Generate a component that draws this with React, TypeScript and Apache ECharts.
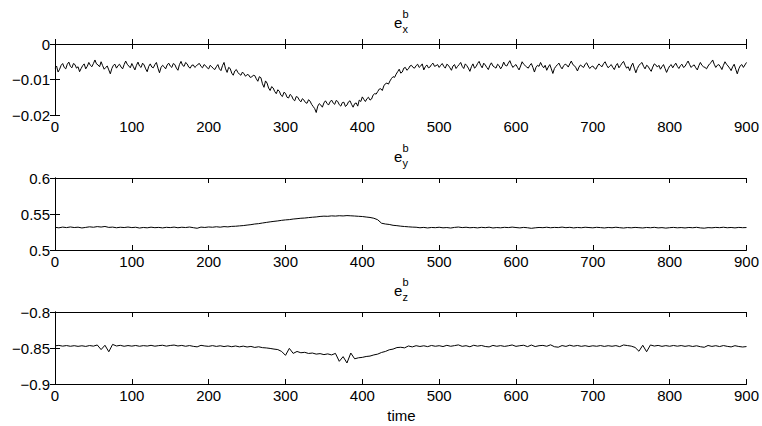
import React, { useEffect, useRef } from "react";
import * as echarts from "echarts";

// sample spacing (time units) of each series
const STEP_EX = 2;
const STEP_EY = 5;
const STEP_EZ = 5;

const X_MIN = 0;
const X_MAX = 900;
const X_INTERVAL = 100;

// e_x^b, t = 0,2,...,900
const exB = [
  -0.0068, -0.0062, -0.0079, -0.0071, -0.0060, -0.0055, -0.0066, -0.0070, -0.0057, -0.0051, -0.0063, -0.0067, -0.0055, -0.0058, -0.0068, -0.0064, -0.0078, -0.0069, -0.0061, -0.0056,
  -0.0070, -0.0063, -0.0052, -0.0060, -0.0064, -0.0055, -0.0045, -0.0056, -0.0059, -0.0064, -0.0050, -0.0061, -0.0071, -0.0066, -0.0062, -0.0073, -0.0084, -0.0069, -0.0060, -0.0057,
  -0.0068, -0.0061, -0.0057, -0.0065, -0.0070, -0.0058, -0.0048, -0.0057, -0.0062, -0.0067, -0.0055, -0.0064, -0.0073, -0.0060, -0.0051, -0.0062, -0.0066, -0.0054, -0.0059, -0.0070,
  -0.0078, -0.0063, -0.0056, -0.0065, -0.0067, -0.0058, -0.0052, -0.0068, -0.0081, -0.0066, -0.0060, -0.0064, -0.0070, -0.0059, -0.0054, -0.0062, -0.0066, -0.0055, -0.0058, -0.0068,
  -0.0074, -0.0058, -0.0049, -0.0060, -0.0063, -0.0052, -0.0056, -0.0065, -0.0068, -0.0060, -0.0059, -0.0066, -0.0062, -0.0057, -0.0055, -0.0063, -0.0067, -0.0058, -0.0061, -0.0067,
  -0.0070, -0.0060, -0.0064, -0.0069, -0.0072, -0.0064, -0.0058, -0.0070, -0.0075, -0.0061, -0.0052, -0.0070, -0.0080, -0.0066, -0.0069, -0.0082, -0.0088, -0.0076, -0.0072, -0.0080,
  -0.0085, -0.0088, -0.0079, -0.0084, -0.0091, -0.0086, -0.0087, -0.0094, -0.0093, -0.0088, -0.0089, -0.0098, -0.0105, -0.0092, -0.0095, -0.0112, -0.0122, -0.0104, -0.0110, -0.0124,
  -0.0131, -0.0120, -0.0124, -0.0134, -0.0140, -0.0129, -0.0133, -0.0144, -0.0148, -0.0136, -0.0139, -0.0150, -0.0152, -0.0142, -0.0146, -0.0156, -0.0160, -0.0148, -0.0150, -0.0158,
  -0.0163, -0.0154, -0.0158, -0.0165, -0.0167, -0.0157, -0.0161, -0.0170, -0.0176, -0.0182, -0.0193, -0.0175, -0.0168, -0.0172, -0.0178, -0.0166, -0.0160, -0.0167, -0.0172, -0.0163,
  -0.0158, -0.0166, -0.0170, -0.0159, -0.0162, -0.0171, -0.0175, -0.0165, -0.0164, -0.0176, -0.0172, -0.0163, -0.0160, -0.0170, -0.0178, -0.0168, -0.0166, -0.0175, -0.0158, -0.0162,
  -0.0149, -0.0156, -0.0162, -0.0154, -0.0150, -0.0158, -0.0155, -0.0144, -0.0140, -0.0141, -0.0134, -0.0127, -0.0126, -0.0131, -0.0118, -0.0112, -0.0110, -0.0113, -0.0104, -0.0097,
  -0.0092, -0.0094, -0.0085, -0.0078, -0.0071, -0.0082, -0.0079, -0.0068, -0.0066, -0.0074, -0.0070, -0.0062, -0.0060, -0.0066, -0.0068, -0.0061, -0.0057, -0.0066, -0.0062, -0.0056,
  -0.0073, -0.0064, -0.0059, -0.0067, -0.0065, -0.0058, -0.0054, -0.0063, -0.0061, -0.0058, -0.0066, -0.0060,
  -0.0055, -0.0063, -0.0068, -0.0057, -0.0060, -0.0067, -0.0074, -0.0062, -0.0058, -0.0069, -0.0063, -0.0058, -0.0052, -0.0063, -0.0069, -0.0056, -0.0061, -0.0068, -0.0077, -0.0064,
  -0.0056, -0.0068, -0.0064, -0.0055, -0.0049, -0.0060, -0.0067, -0.0054, -0.0059, -0.0066, -0.0072, -0.0060, -0.0053, -0.0062, -0.0065, -0.0068, -0.0057, -0.0061, -0.0070, -0.0063,
  -0.0051, -0.0060, -0.0062, -0.0054, -0.0047, -0.0058, -0.0066, -0.0061, -0.0058, -0.0066, -0.0073, -0.0062, -0.0050, -0.0057, -0.0061, -0.0065, -0.0068, -0.0060, -0.0055, -0.0066,
  -0.0079, -0.0066, -0.0060, -0.0063, -0.0052, -0.0061, -0.0067, -0.0060, -0.0074, -0.0065, -0.0058, -0.0070, -0.0083, -0.0069, -0.0063, -0.0058, -0.0054, -0.0064, -0.0070, -0.0061,
  -0.0057, -0.0059, -0.0065, -0.0056, -0.0048, -0.0058, -0.0061, -0.0067, -0.0076, -0.0065, -0.0059, -0.0063, -0.0066, -0.0057, -0.0053, -0.0062, -0.0069, -0.0064, -0.0062, -0.0068,
  -0.0071, -0.0062, -0.0056, -0.0061, -0.0064, -0.0055, -0.0050, -0.0060, -0.0067, -0.0062, -0.0058, -0.0066, -0.0072, -0.0061, -0.0055, -0.0067, -0.0061, -0.0054, -0.0049, -0.0060,
  -0.0068, -0.0064, -0.0075, -0.0062, -0.0054, -0.0068, -0.0081, -0.0069, -0.0060, -0.0056, -0.0052, -0.0063, -0.0070, -0.0060, -0.0063, -0.0071, -0.0077, -0.0065, -0.0056, -0.0059,
  -0.0065, -0.0060, -0.0071, -0.0064, -0.0058, -0.0069, -0.0080, -0.0070, -0.0062, -0.0058, -0.0067, -0.0060, -0.0054, -0.0063, -0.0069, -0.0061, -0.0057, -0.0066, -0.0063, -0.0055,
  -0.0048, -0.0058, -0.0066, -0.0061, -0.0059, -0.0067, -0.0073, -0.0061, -0.0052, -0.0060, -0.0064, -0.0066, -0.0070, -0.0062, -0.0056, -0.0052, -0.0045, -0.0057, -0.0066, -0.0060,
  -0.0058, -0.0064, -0.0072, -0.0060, -0.0050, -0.0057, -0.0062, -0.0068, -0.0075, -0.0064, -0.0057, -0.0071, -0.0084, -0.0070, -0.0061, -0.0058, -0.0066, -0.0059, -0.0052,
];

// e_y^b, t = 0,5,...,900
const eyB = [
  0.5315, 0.5308, 0.5318, 0.5311, 0.5320, 0.5312, 0.5317, 0.5306, 0.5314, 0.5322,
  0.5316, 0.5325, 0.5319, 0.5327, 0.5314, 0.5318, 0.5309, 0.5316, 0.5312, 0.5319,
  0.5311, 0.5316, 0.5305, 0.5313, 0.5308, 0.5317, 0.5310, 0.5314, 0.5307, 0.5315,
  0.5311, 0.5318, 0.5309, 0.5316, 0.5312, 0.5319, 0.5310, 0.5302, 0.5318, 0.5313,
  0.5320, 0.5316, 0.5323, 0.5317, 0.5325, 0.5321, 0.5328, 0.5330, 0.5335, 0.5339,
  0.5346, 0.5352, 0.5361, 0.5366, 0.5375, 0.5383, 0.5391, 0.5398, 0.5404, 0.5412,
  0.5418, 0.5422, 0.5430, 0.5435, 0.5441, 0.5444, 0.5450, 0.5455, 0.5459, 0.5466,
  0.5470, 0.5468, 0.5474, 0.5471, 0.5476, 0.5473, 0.5478, 0.5475, 0.5472, 0.5468,
  0.5465, 0.5458, 0.5452, 0.5441, 0.5420, 0.5372, 0.5361, 0.5355, 0.5343, 0.5338,
  0.5331, 0.5326, 0.5322, 0.5318, 0.5316, 0.5309, 0.5314, 0.5306, 0.5313, 0.5310,
  0.5316, 0.5308, 0.5312, 0.5305, 0.5314, 0.5319, 0.5311, 0.5316, 0.5309, 0.5313,
  0.5307, 0.5315, 0.5310, 0.5317, 0.5306, 0.5312, 0.5308, 0.5315, 0.5311, 0.5318,
  0.5312, 0.5307, 0.5314, 0.5309, 0.5301, 0.5308, 0.5313, 0.5310, 0.5316, 0.5309,
  0.5314, 0.5311, 0.5318, 0.5310, 0.5315, 0.5307, 0.5313, 0.5309, 0.5316, 0.5312,
  0.5308, 0.5315, 0.5311, 0.5306, 0.5313, 0.5309, 0.5316, 0.5310, 0.5305, 0.5312,
  0.5308, 0.5314, 0.5310, 0.5306, 0.5313, 0.5309, 0.5315, 0.5307, 0.5311, 0.5304,
  0.5310, 0.5314, 0.5308, 0.5312, 0.5306, 0.5313, 0.5309, 0.5315, 0.5307, 0.5303,
  0.5311, 0.5308, 0.5314, 0.5310, 0.5316, 0.5309, 0.5313, 0.5307, 0.5314, 0.5310,
  0.5312,
];

// e_z^b, t = 0,5,...,900
const ezB = [
  -0.8470, -0.8464, -0.8474, -0.8466, -0.8476, -0.8468, -0.8477, -0.8469, -0.8478, -0.8466,
  -0.8474, -0.8458, -0.8522, -0.8462, -0.8552, -0.8450, -0.8472, -0.8463, -0.8476, -0.8466,
  -0.8474, -0.8465, -0.8476, -0.8467, -0.8473, -0.8463, -0.8475, -0.8467, -0.8462, -0.8474,
  -0.8465, -0.8459, -0.8472, -0.8464, -0.8476, -0.8466, -0.8477, -0.8484, -0.8463, -0.8472,
  -0.8477, -0.8467, -0.8478, -0.8469, -0.8480, -0.8471, -0.8482, -0.8472, -0.8484, -0.8474,
  -0.8486, -0.8478, -0.8492, -0.8483, -0.8495, -0.8499, -0.8506, -0.8515, -0.8522, -0.8548,
  -0.8602, -0.8505, -0.8575, -0.8548, -0.8566, -0.8560, -0.8576, -0.8570, -0.8585, -0.8578,
  -0.8592, -0.8582, -0.8596, -0.8575, -0.8685, -0.8620, -0.8708, -0.8570, -0.8650, -0.8636,
  -0.8630, -0.8618, -0.8612, -0.8596, -0.8585, -0.8562, -0.8548, -0.8525, -0.8515, -0.8494,
  -0.8490, -0.8498, -0.8472, -0.8485, -0.8468, -0.8479, -0.8469, -0.8481, -0.8465, -0.8476,
  -0.8468, -0.8480, -0.8463, -0.8476, -0.8467, -0.8457, -0.8477, -0.8468, -0.8483, -0.8462,
  -0.8474, -0.8465, -0.8479, -0.8485, -0.8464, -0.8476, -0.8467, -0.8478, -0.8469, -0.8458,
  -0.8477, -0.8468, -0.8462, -0.8481, -0.8459, -0.8480, -0.8468, -0.8464, -0.8476, -0.8456,
  -0.8482, -0.8489, -0.8466, -0.8478, -0.8461, -0.8475, -0.8465, -0.8477, -0.8468, -0.8479,
  -0.8469, -0.8476, -0.8466, -0.8478, -0.8468, -0.8476, -0.8467, -0.8481, -0.8458, -0.8466,
  -0.8474, -0.8492, -0.8545, -0.8462, -0.8552, -0.8458, -0.8473, -0.8464, -0.8477, -0.8467,
  -0.8476, -0.8465, -0.8475, -0.8466, -0.8477, -0.8468, -0.8479, -0.8469, -0.8482, -0.8490,
  -0.8465, -0.8478, -0.8468, -0.8480, -0.8466, -0.8477, -0.8485, -0.8468, -0.8479, -0.8486,
  -0.8480,
];

// y-axis ranges for the three panels
const yMins = [-0.02, 0.5, -0.9];
const yMaxs = [0, 0.6, -0.8];
const yIntervals = [0.01, 0.05, 0.05];
const panelSubs = ["x", "y", "z"];
const xAxisName = "time";

const FONT = "'Liberation Sans', Arial, Helvetica, sans-serif";

const fmtY = (v: number) => {
  const r = Math.round(v * 10000) / 10000;
  if (r === 0) return "0";
  return r < 0 ? "\u2212" + String(-r) : String(r);
};

export default function App() {
  const ref = useRef<HTMLDivElement>(null);

  useEffect(() => {
    if (!ref.current) return;
    const chart = echarts.init(ref.current, undefined, { renderer: "svg" });

    const W = 762;
    const left = 55;
    const right = 14;
    const tops = [44, 178, 312];
    const heights = [71, 72, 72];

    const series = [
      { data: exB.map((v, i) => [i * STEP_EX, v]) },
      { data: eyB.map((v, i) => [i * STEP_EY, v]) },
      { data: ezB.map((v, i) => [i * STEP_EZ, v]) },
    ];

    const grids: any[] = [];
    const xAxes: any[] = [];
    const yAxes: any[] = [];
    const seriesOpts: any[] = [];
    const graphics: any[] = [];

    const axisLine = { show: true, lineStyle: { color: "#000", width: 1 } };
    const tickIn = { show: true, inside: true, length: 5, lineStyle: { color: "#000", width: 1 } };
    const label = { color: "#000", fontSize: 15, fontFamily: FONT };

    for (let p = 0; p < 3; p++) {
      grids.push({ left, right, top: tops[p], height: heights[p], containLabel: false });
      const xBase = {
        type: "value",
        gridIndex: p,
        min: X_MIN,
        max: X_MAX,
        interval: X_INTERVAL,
        axisLine,
        splitLine: { show: false },
      };
      xAxes.push({
        ...xBase,
        position: "bottom",
        axisTick: { ...tickIn },
        axisLabel: { ...label, margin: 4, showMinLabel: true, showMaxLabel: true },
      });
      xAxes.push({ ...xBase, position: "top", axisTick: { ...tickIn }, axisLabel: { show: false } });
      const yBase = {
        type: "value",
        gridIndex: p,
        min: yMins[p],
        max: yMaxs[p],
        interval: yIntervals[p],
        axisLine,
        splitLine: { show: false },
      };
      yAxes.push({
        ...yBase,
        position: "left",
        axisTick: { ...tickIn },
        axisLabel: { ...label, margin: 5, formatter: fmtY, showMinLabel: true, showMaxLabel: true },
      });
      yAxes.push({ ...yBase, position: "right", axisTick: { ...tickIn }, axisLabel: { show: false } });

      seriesOpts.push({
        type: "line",
        xAxisIndex: p * 2,
        yAxisIndex: p * 2,
        data: series[p].data,
        showSymbol: false,
        symbol: "none",
        lineStyle: { color: "#000", width: 1 },
      });

      const t = tops[p];
      const cx = 394;
      graphics.push({
        type: "text",
        x: cx,
        y: t - 22,
        style: { text: "e", fill: "#000", font: `15px ${FONT}`, textAlign: "left", textVerticalAlign: "middle" },
      });
      graphics.push({
        type: "text",
        x: cx + 8.5,
        y: t - 30,
        style: { text: "b", fill: "#000", font: `11px ${FONT}`, textAlign: "left", textVerticalAlign: "middle" },
      });
      graphics.push({
        type: "text",
        x: cx + 8.5,
        y: t - 15,
        style: { text: panelSubs[p], fill: "#000", font: `11px ${FONT}`, textAlign: "left", textVerticalAlign: "middle" },
      });
    }

    graphics.push({
      type: "text",
      x: (left + (W - right)) / 2,
      y: 415,
      style: { text: xAxisName, fill: "#000", font: `15px ${FONT}`, textAlign: "center", textVerticalAlign: "middle" },
    });

    chart.setOption({
      animation: false,
      backgroundColor: "#fff",
      grid: grids,
      xAxis: xAxes,
      yAxis: yAxes,
      series: seriesOpts,
      graphic: graphics,
    });

    return () => chart.dispose();
  }, []);

  return (
    <div
      ref={ref}
      style={{ position: "fixed", left: 0, top: 0, width: 762, height: 426, background: "#fff" }}
    />
  );
}
